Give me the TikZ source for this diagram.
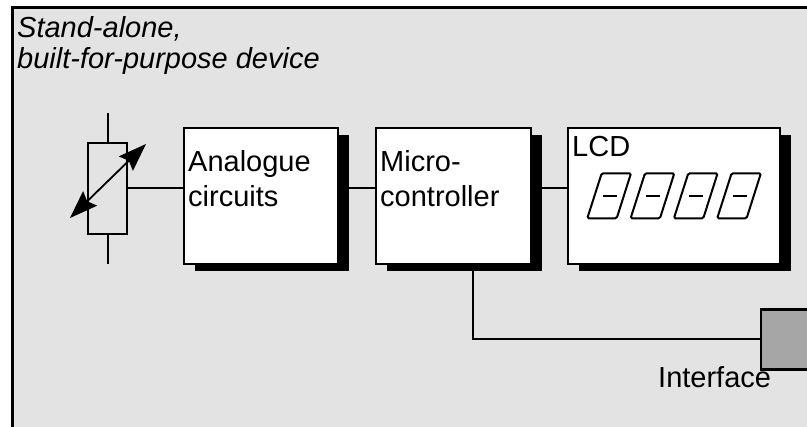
\documentclass[tikz,border=0pt]{standalone}
\usepackage{fontspec}
\setmainfont{Liberation Sans}
\usetikzlibrary{arrows.meta,shadows}
\definecolor{panelgrey}{HTML}{E3E3E3}
\definecolor{portgrey}{HTML}{A6A6A6}
\tikzset{
  block/.style={draw=black,line width=2.4pt,fill=white,minimum height=136pt,inner sep=0pt,
    drop shadow={shadow xshift=11pt,shadow yshift=-7pt,opacity=1,fill=black}},
  label/.style={anchor=base west,inner sep=0pt,font=\fontsize{29}{35}\selectfont,align=left},
  wire/.style={line width=2pt},
  digit/.style={line width=2pt,rounded corners=1.5pt},
  tune/.style={line width=1.8pt,{Stealth[length=28pt,width=20pt,inset=4pt]}-{Stealth[length=28pt,width=20pt,inset=4pt]}}
}

\begin{document}
\begin{tikzpicture}[x=1pt,y=-1pt]
  \clip (0,0) rectangle (807,427);
  \fill[panelgrey] (12,7.5) rectangle (830,450);
  \draw[line width=3pt] (12,450) -- (12,7.5) -- (830,7.5);
  \node[label,font=\fontsize{29}{31}\selectfont\itshape] (title) at (17,69) {Stand-alone,\\built-for-purpose device};

  \node[draw,line width=2.2pt,minimum width=39pt,minimum height=91pt,inner sep=0pt] (res) at (107.5,188.5) {};
  \coordinate (restop) at (107.5,113);
  \coordinate (resbot) at (107.5,264);
  \coordinate (tunea) at (70,218);
  \coordinate (tuneb) at (146,144);
  \node[block,minimum width=154pt] (analogue) at (261,196) {};
  \node[block,minimum width=155pt] (micro) at (453.5,196) {};
  \node[block,minimum width=212pt] (lcd) at (674,196) {};
  \node[draw,line width=2.6pt,fill=portgrey,minimum width=80pt,minimum height=60pt,inner sep=0pt] (iface) at (801,339.5) {};
  \coordinate (tap) at (473,270);

  \draw[wire] (restop) -- (res.north) (res.south) -- (resbot);
  \draw[tune] (tunea) -- (tuneb);
  \draw[wire] (res.east) -- (res.east -| analogue.west);
  \draw[wire] (res.east -| analogue.east) -- (res.east -| micro.west);
  \draw[wire] (res.east -| micro.east) -- (res.east -| lcd.west);
  \draw[wire] (tap) |- (iface.west);

  \node[label] (analoguetext) at (188,207) {Analogue\\circuits};
  \node[label] (microtext) at (380,207) {Micro-\\controller};
  \node[label] (lcdtext) at (572,157) {LCD};
  \node[label] (ifacetext) at (658,388) {Interface};

  \foreach \i in {0,1,2,3} {
    \draw[digit] ({587.3+43.3*\i},218.3) -- ({616.7+43.3*\i},218.3) -- ({631+43.3*\i},173.3) -- ({601.7+43.3*\i},173.3) -- cycle;
    \draw[line width=2pt] ({602.7+43.3*\i},196) -- ({616.7+43.3*\i},196);
  }
\end{tikzpicture}
\end{document}
